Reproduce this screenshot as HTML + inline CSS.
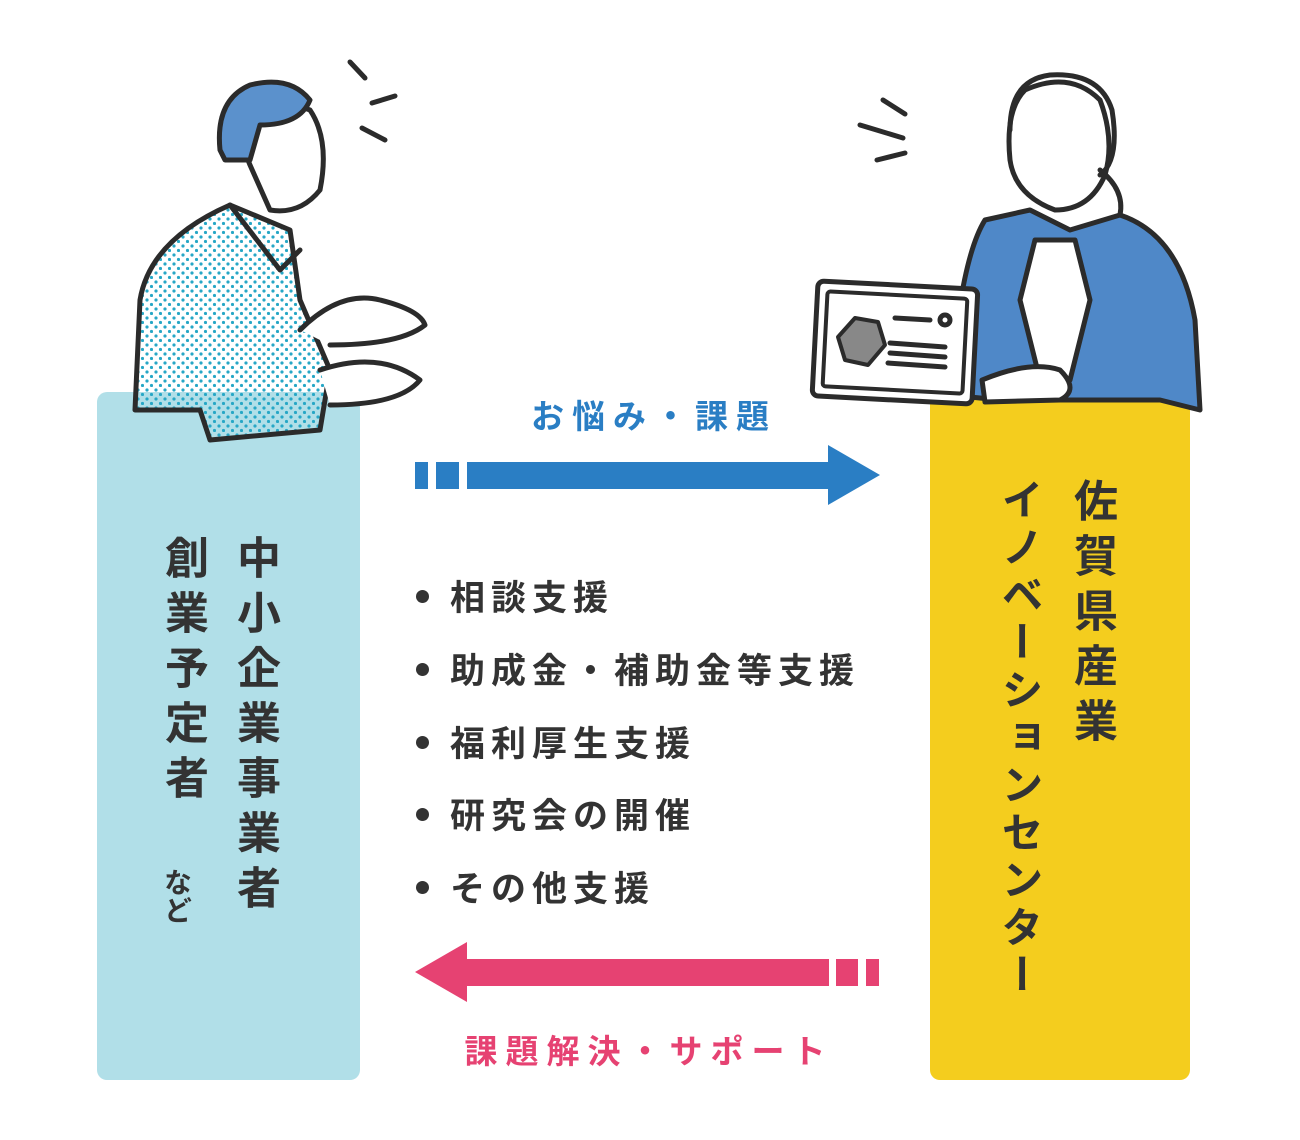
<!DOCTYPE html>
<html><head><meta charset="utf-8"><style>
html,body{margin:0;padding:0;background:#fff;}
body{width:1300px;height:1140px;position:relative;overflow:hidden;font-family:"Liberation Sans","Noto Sans CJK JP",sans-serif;}
.abs{position:absolute;}
.v{writing-mode:vertical-rl;font-weight:bold;color:#333;white-space:nowrap;}
.b{position:absolute;left:416px;font-size:35px;font-weight:bold;color:#333;letter-spacing:6px;}
.b:before{content:"";position:absolute;left:0;top:50%;width:13px;height:13px;margin-top:-6px;border-radius:50%;background:#333;}
.b span{margin-left:34px;}
</style></head><body>
<div class="abs" style="left:97px;top:392px;width:263px;height:688px;background:#b1dfe8;border-radius:10px;"></div>
<div class="abs" style="left:930px;top:393px;width:260px;height:687px;background:#f4cd1e;border-radius:10px;"></div>

<svg class="abs" style="left:0;top:0" width="1300" height="1140">
<defs><pattern id="dots" width="9" height="9" patternUnits="userSpaceOnUse"><circle cx="3" cy="3" r="1.6" fill="#27a7c6"/><circle cx="7.5" cy="7.5" r="1.6" fill="#27a7c6"/></pattern></defs>
<g stroke="#2b2b2b" stroke-width="5" stroke-linecap="round" stroke-linejoin="round">
<path d="M135 410 L140 300 Q150 240 230 205 L290 230 L300 300 L330 370 L320 430 L210 440 L200 410 Z" fill="url(#dots)"/>
<path d="M230 205 L280 270 L300 250" fill="none"/>
<path d="M250 165 Q235 130 245 110 Q270 95 310 110 Q330 140 320 190 Q300 215 270 210 Z" fill="#fff"/>
<path d="M220 150 Q215 100 250 85 Q290 75 310 100 Q300 125 260 125 L250 160 L225 160 Z" fill="#5b91cc"/>
<path d="M320 370 Q380 350 420 380 Q400 405 330 405" fill="#fff"/>
<path d="M300 330 Q340 290 380 300 Q420 310 425 325 Q400 345 330 345" fill="#fff"/>
<line x1="350" y1="62" x2="365" y2="78"/><line x1="372" y1="103" x2="395" y2="96"/><line x1="362" y1="128" x2="385" y2="140"/>
<path d="M950 395 Q960 260 985 220 L1030 210 L1070 230 L1120 215 Q1180 235 1195 320 L1200 410 L1160 400 L1000 400 Z" fill="#4f88c8"/>
<path d="M1035 240 L1020 300 L1040 380 L1070 380 L1090 300 L1075 240 Z" fill="#fff"/>
<path d="M1010 160 Q1005 110 1025 90 Q1070 70 1100 100 Q1115 140 1105 175 Q1090 210 1055 210 Q1015 195 1010 160 Z" fill="#fff"/>
<path d="M1010 130 Q1010 80 1050 75 Q1100 72 1112 110 Q1120 160 1100 175" fill="none"/>
<path d="M1100 170 Q1125 190 1120 215" fill="none"/>
<path d="M982 380 Q1030 360 1060 370 Q1080 390 1060 400 L985 402 Z" fill="#fff"/>
<rect x="815" y="285" width="160" height="115" rx="6" fill="#fff" transform="rotate(3 895 342)"/>
<rect x="825" y="295" width="140" height="95" rx="3" fill="none" stroke-width="4" transform="rotate(3 895 342)"/>
<polygon points="855,318 878,322 885,345 868,365 845,360 838,337" fill="#888" stroke-width="4"/>
<line x1="895" y1="318" x2="930" y2="320"/><circle cx="945" cy="320" r="5" fill="#fff"/>
<line x1="890" y1="343" x2="945" y2="347"/><line x1="890" y1="353" x2="945" y2="357"/><line x1="888" y1="363" x2="945" y2="367"/>
<line x1="883" y1="100" x2="905" y2="114"/><line x1="860" y1="125" x2="903" y2="138"/><line x1="877" y1="160" x2="905" y2="153"/>
</g>
<g fill="#2a7ec4"><rect x="415" y="462" width="13" height="27"/><rect x="436" y="462" width="23" height="27"/><rect x="467" y="462" width="365" height="27"/><polygon points="828,445 880,475 828,505"/></g>
<g fill="#e64272"><polygon points="467,942 415,972 467,1002"/><rect x="463" y="959" width="366" height="27"/><rect x="836" y="959" width="22" height="27"/><rect x="866" y="959" width="13" height="27"/></g>
</svg>

<div class="abs" style="left:500px;top:390px;width:300px;text-align:center;font-size:33px;font-weight:bold;color:#2a7ec4;letter-spacing:8px;text-indent:8px;">お悩み・課題</div>
<div class="abs" style="left:425px;top:1025px;width:440px;text-align:center;font-size:33px;font-weight:bold;color:#e64272;letter-spacing:8px;text-indent:8px;">課題解決・サポート</div>

<div class="b" style="top:570px"><span>相談支援</span></div>
<div class="b" style="top:643px"><span>助成金・補助金等支援</span></div>
<div class="b" style="top:716px"><span>福利厚生支援</span></div>
<div class="b" style="top:788px"><span>研究会の開催</span></div>
<div class="b" style="top:861px"><span>その他支援</span></div>

<div class="v abs" style="left:222px;top:535px;font-size:44px;letter-spacing:11px;">中小企業事業者</div>
<div class="v abs" style="left:150px;top:535px;font-size:44px;letter-spacing:11px;">創業予定者</div>
<div class="v abs" style="left:156px;top:868px;font-size:28px;">など</div>
<div class="v abs" style="left:1059px;top:478px;font-size:44px;letter-spacing:11px;">佐賀県産業</div>
<div class="v abs" style="left:989px;top:478px;font-size:42px;letter-spacing:5.5px;">イノベーションセンター</div>
</body></html>
